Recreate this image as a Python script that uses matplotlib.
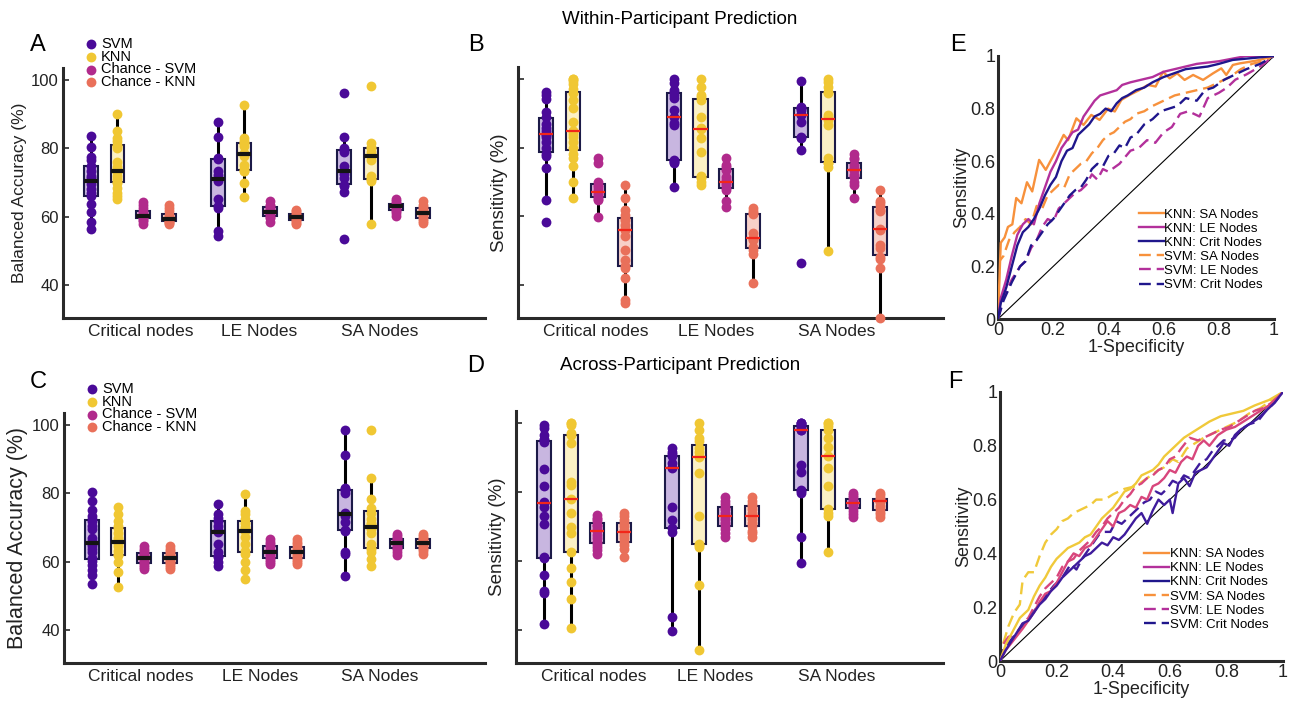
import numpy as np
import matplotlib.pyplot as plt
from matplotlib.lines import Line2D

plt.rcParams['font.family'] = ['Liberation Sans', 'DejaVu Sans']

groups = ['Critical nodes', 'LE Nodes', 'SA Nodes']
models = ['SVM', 'KNN', 'Chance - SVM', 'Chance - KNN']

# ---- A: within-participant balanced accuracy (%) [crit, LE, SA]
accA_svm = [[83.5, 80.4, 77.4, 76.5, 74.8, 73.3, 72.0, 71.4, 70.4, 69.4, 68.2, 67.0, 66.0, 63.6, 61.4, 58.4, 56.5],
            [87.7, 83.2, 77.2, 76.9, 73.3, 72.3, 70.9, 70.4, 65, 63.1, 62.6, 55.8, 54.4],
            [96.1, 83.3, 80, 79.6, 79, 74.8, 73.3, 73.3, 72.5, 71.4, 69.1, 69, 67.2, 53.4]]
accA_knn = [[90.1, 85, 83, 82, 81, 80.8, 80, 76, 74.5, 73.5, 73.3, 73, 72, 71, 70, 69.9, 68.4, 67, 66, 65],
            [92.7, 83, 82, 81.6, 81.6, 80.6, 78.6, 78.4, 77.7, 75, 74, 73.3, 73.3, 69.7, 65.8],
            [98.3, 81.6, 80.4, 80.1, 79, 77.7, 77.7, 76.7, 72, 71.1, 71.1, 70.4, 57.8]]
accA_csvm = [[64.4, 63.3, 62.5, 61.7, 61, 60.5, 60.2, 60, 59.8, 59.5, 59, 58.7, 57.8],
             [64.6, 63.5, 63, 62.5, 62, 61.4, 61, 60.5, 60, 59.7, 58.4],
             [65, 64.6, 64, 63.5, 63.1, 63, 62.5, 62, 61.7, 61, 60.3]]
accA_cknn = [[63.3, 62.5, 61.5, 60.5, 60, 59.5, 59.2, 59, 58.8, 58.5, 58.2, 57.8],
             [61.9, 61.5, 61, 60.5, 60, 59.9, 59.5, 59, 58.7, 58.2, 57.8],
             [64.5, 63.5, 62.8, 62.3, 61.5, 61, 60.5, 60, 59.4, 58.8, 58]]

# ---- B: within-participant sensitivity (%)
sensB_svm = [[96.3, 95.3, 94.1, 90.5, 89, 87, 85.6, 84.7, 84, 83.7, 83, 81.7, 80, 78.1, 77.4, 74, 64.8, 58.4],
             [100, 98.7, 96.8, 96.3, 95.3, 94.4, 91, 89, 87.1, 86.6, 76.3, 76.2, 75.9, 75.4, 68.4],
             [99.5, 91.9, 91.5, 91.5, 91, 89.7, 89.5, 87.6, 83, 82.9, 79.3, 46.3]]
sensB_knn = [[100, 100, 99.5, 98.5, 97, 95.8, 93.9, 91.5, 84, 87.6, 84.9, 84.7, 83.2, 81.7, 79.8, 78.1, 76.9, 74.5, 70.1, 65.2],
             [100, 97.8, 95.3, 94.7, 93.9, 89, 85.6, 85.4, 82.7, 78.8, 71.4, 71.6, 71.1, 70.1, 69.1],
             [100, 99.2, 97.6, 96.3, 95.8, 89.5, 89, 87.9, 86.6, 75.5, 76.9, 75.4, 74.3, 49.7]]
sensB_csvm = [[76.9, 75.4, 70.1, 69.1, 68.6, 67.5, 66.7, 66.2, 65.7, 65, 64.8, 59.9],
              [76.9, 75, 74.3, 73.5, 71.4, 70.4, 69.6, 69, 68.2, 67.7, 64.3, 62.6],
              [78.2, 76.9, 76.6, 75, 74, 73.7, 73.5, 72, 71.4, 70, 69.1, 65.2]]
sensB_cknn = [[69.1, 65.2, 61.7, 60.4, 59.5, 58.9, 57.5, 56.3, 56, 54.1, 50, 47.3, 45.5, 44.9, 41.9, 35.6, 34.7],
              [62.3, 61.5, 60.9, 60.5, 55, 53.6, 53.4, 53.1, 51, 50.2, 49, 40.5],
              [67.7, 64.3, 63.8, 63, 61.8, 61.4, 56.3, 56, 51.7, 50.7, 48, 47.5, 44.9, 30.3]]

# ---- C: across-participant balanced accuracy (%)
accC_svm = [[80.3, 77.7, 75.1, 73.2, 72.5, 71.9, 70.5, 69.5, 67, 66.1, 65, 64.7, 63.7, 62.7, 61, 60.3, 58.9, 57.4, 56, 53.5],
            [76.8, 73.9, 72.9, 72, 70.5, 69.2, 68.8, 65.2, 62.7, 61.5, 61.3, 59.8, 58.7],
            [98.5, 91.3, 81.6, 81.2, 81, 80.1, 74.3, 73.8, 73.3, 71.6, 69.3, 69, 62.8, 62.2, 55.9]]
accC_knn = [[76.1, 73.9, 71.9, 70.5, 69.7, 68.5, 67, 66.1, 65.5, 64.7, 63.2, 62, 61.8, 59.8, 56.9, 52.6],
            [79.7, 74.8, 73.9, 72.4, 71.2, 70, 69.5, 69, 67.1, 65, 63.2, 62.2, 59.8, 57.4, 55],
            [98.5, 84.5, 78.2, 75.8, 74.3, 72.5, 71.4, 71, 69.5, 68.5, 65, 64.1, 63.6, 62.7, 60.7, 58.8]]
accC_csvm = [[64.5, 63.8, 63, 62.5, 62, 61.5, 61, 60.5, 60, 59.5, 59, 58.5, 57.8],
             [66.5, 65.8, 65, 64.5, 63.5, 63, 62.9, 62.3, 61.5, 61, 60.6, 60, 59.4],
             [68, 67.5, 67, 66.5, 66, 65.5, 65.4, 65, 64.5, 64, 63.6, 62.8, 62]]
accC_cknn = [[64.5, 63.8, 63, 62.5, 62, 61.5, 61, 60.5, 60, 59.5, 59, 58.5, 57.8],
             [66.5, 65.8, 65, 64.3, 63.5, 63, 62.9, 62.3, 61.5, 61, 60.6, 60, 59.4],
             [68, 67.5, 67, 66.5, 66, 65.5, 65.4, 65, 64.5, 64, 63.6, 63, 62.3]]

# ---- D: across-participant sensitivity (%)
sensD_svm = [[99.5, 98.5, 96.6, 95.5, 95, 94.5, 86.6, 81.6, 77, 76.9, 75.7, 73, 70.7, 61, 60.7, 56, 51.2, 50.5, 41.7],
             [92.7, 91.7, 91, 90.3, 88.3, 87.2, 86.9, 75.7, 71.8, 69.4, 68.4, 43.7, 39.6],
             [100, 100, 100, 99.5, 99, 98.5, 98.1, 98.1, 87.9, 85.9, 80.6, 80.3, 79.6, 67, 59.4]]
sensD_knn = [[100, 100, 99.5, 97, 96.5, 94.2, 83, 82, 77.9, 73.8, 69.9, 68, 62.5, 57.8, 53.9, 49, 40.6],
             [100, 98.1, 95.6, 94.7, 92.7, 91.7, 90.3, 90, 85.4, 73, 65, 64.6, 64.1, 52.9, 34],
             [100, 100, 99, 98.1, 95.6, 93, 90.5, 87, 81.7, 75, 73.8, 73, 62.5]]
sensD_csvm = [[73.3, 72.5, 72.1, 71.5, 70.5, 70, 69.1, 68.5, 67.5, 66.5, 65.5, 64.8, 64, 63, 62.1],
              [78.6, 77.5, 76.5, 75.7, 75, 74, 73, 72, 71, 70, 69.2, 68, 67],
              [79.6, 79, 78.6, 78, 77.5, 77, 76.9, 76.5, 76, 75.4, 74.5, 73.5, 72.8]]
sensD_cknn = [[73.8, 73, 71.7, 71, 70, 69, 68.3, 67.5, 66.5, 65.5, 64.5, 63.5, 61.2],
              [78.6, 77.5, 76.5, 76, 75, 74, 73, 72, 71, 70, 68.7, 68, 67],
              [79.6, 79, 78.2, 78, 77.5, 77.5, 77, 76, 75, 74.3, 73.5, 72.8]]

# ---- E: within-participant ROC (1-specificity, sensitivity)
rocE_knn_sa = [(0, 0), (0.006, 0.175), (0.01, 0.29), (0.024, 0.31), (0.036, 0.35), (0.052, 0.36), (0.066, 0.46),
               (0.085, 0.44), (0.105, 0.52), (0.124, 0.485), (0.149, 0.605), (0.173, 0.567), (0.205, 0.63),
               (0.238, 0.70), (0.254, 0.68), (0.284, 0.763), (0.31, 0.738), (0.338, 0.776), (0.368, 0.757),
               (0.399, 0.80), (0.423, 0.789), (0.447, 0.833), (0.477, 0.852), (0.513, 0.871), (0.543, 0.89),
               (0.571, 0.884), (0.598, 0.94), (0.622, 0.915), (0.649, 0.934), (0.676, 0.909), (0.707, 0.928),
               (0.743, 0.909), (0.779, 0.934), (0.809, 0.953), (0.827, 0.928), (0.851, 0.966), (0.876, 0.972),
               (0.912, 0.978), (0.948, 0.985), (1, 1)]
rocE_knn_le = [(0, 0), (0.01, 0.08), (0.03, 0.15), (0.05, 0.24), (0.07, 0.32), (0.09, 0.36), (0.11, 0.38),
               (0.13, 0.36), (0.15, 0.44), (0.17, 0.50), (0.19, 0.56), (0.21, 0.60), (0.23, 0.65), (0.25, 0.68),
               (0.27, 0.71), (0.29, 0.72), (0.31, 0.77), (0.33, 0.80), (0.35, 0.83), (0.37, 0.85), (0.40, 0.86),
               (0.43, 0.87), (0.45, 0.89), (0.48, 0.90), (0.52, 0.91), (0.56, 0.92), (0.60, 0.94), (0.64, 0.95),
               (0.68, 0.96), (0.72, 0.97), (0.76, 0.975), (0.80, 0.98), (0.85, 0.99), (0.90, 1.0), (1, 1)]
rocE_knn_crit = [(0, 0), (0.01, 0.06), (0.03, 0.12), (0.05, 0.20), (0.07, 0.28), (0.09, 0.33), (0.11, 0.35),
                 (0.13, 0.38), (0.15, 0.42), (0.17, 0.47), (0.19, 0.51), (0.21, 0.54), (0.23, 0.60), (0.25, 0.64),
                 (0.27, 0.65), (0.29, 0.70), (0.31, 0.72), (0.33, 0.74), (0.35, 0.77), (0.37, 0.78), (0.39, 0.80),
                 (0.41, 0.79), (0.43, 0.82), (0.45, 0.84), (0.47, 0.85), (0.50, 0.87), (0.53, 0.88), (0.56, 0.90),
                 (0.60, 0.92), (0.64, 0.935), (0.68, 0.95), (0.72, 0.955), (0.76, 0.96), (0.80, 0.97),
                 (0.85, 0.985), (0.90, 0.99), (1, 1)]
rocE_svm_sa = [(0, 0), (0.005, 0.22), (0.02, 0.24), (0.04, 0.30), (0.06, 0.33), (0.08, 0.35), (0.10, 0.38),
               (0.12, 0.36), (0.14, 0.43), (0.16, 0.42), (0.18, 0.47), (0.20, 0.49), (0.22, 0.51), (0.24, 0.50),
               (0.26, 0.55), (0.28, 0.57), (0.30, 0.59), (0.32, 0.60), (0.34, 0.63), (0.36, 0.65), (0.38, 0.68),
               (0.40, 0.70), (0.42, 0.71), (0.44, 0.73), (0.46, 0.75), (0.48, 0.76), (0.50, 0.78), (0.53, 0.79),
               (0.56, 0.81), (0.60, 0.83), (0.64, 0.85), (0.68, 0.86), (0.72, 0.87), (0.76, 0.88), (0.80, 0.90),
               (0.84, 0.92), (0.88, 0.95), (0.92, 0.97), (0.96, 0.98), (1, 1)]
rocE_svm_le = [(0, 0), (0.02, 0.08), (0.05, 0.15), (0.08, 0.20), (0.10, 0.22), (0.12, 0.27), (0.14, 0.30),
               (0.16, 0.35), (0.18, 0.38), (0.20, 0.37), (0.22, 0.42), (0.24, 0.44), (0.26, 0.46), (0.28, 0.48),
               (0.30, 0.49), (0.32, 0.51), (0.34, 0.55), (0.36, 0.53), (0.38, 0.57), (0.40, 0.56), (0.44, 0.59),
               (0.48, 0.64), (0.51, 0.65), (0.54, 0.68), (0.57, 0.67), (0.60, 0.71), (0.63, 0.73), (0.66, 0.78),
               (0.69, 0.79), (0.73, 0.77), (0.76, 0.84), (0.80, 0.86), (0.83, 0.88), (0.86, 0.91), (0.90, 0.93),
               (0.95, 0.96), (1, 1)]
rocE_svm_crit = [(0, 0), (0.02, 0.07), (0.05, 0.14), (0.08, 0.20), (0.10, 0.22), (0.12, 0.28), (0.14, 0.30),
                 (0.16, 0.33), (0.18, 0.36), (0.20, 0.38), (0.22, 0.41), (0.24, 0.44), (0.26, 0.47), (0.28, 0.49),
                 (0.30, 0.50), (0.32, 0.53), (0.34, 0.57), (0.36, 0.59), (0.38, 0.58), (0.40, 0.62), (0.42, 0.63),
                 (0.44, 0.66), (0.46, 0.65), (0.48, 0.69), (0.50, 0.70), (0.53, 0.74), (0.56, 0.76), (0.59, 0.79),
                 (0.62, 0.80), (0.65, 0.81), (0.68, 0.84), (0.72, 0.83), (0.75, 0.87), (0.78, 0.88), (0.82, 0.91),
                 (0.86, 0.93), (0.90, 0.95), (0.95, 0.97), (1, 1)]

# ---- F: across-participant ROC
rocF_knn_sa = [(0, 0), (0.02, 0.06), (0.05, 0.12), (0.07, 0.16), (0.10, 0.19), (0.12, 0.24), (0.14, 0.28),
               (0.16, 0.31), (0.18, 0.35), (0.20, 0.38), (0.22, 0.40), (0.24, 0.42), (0.26, 0.43), (0.28, 0.44),
               (0.30, 0.46), (0.32, 0.47), (0.34, 0.50), (0.36, 0.53), (0.38, 0.55), (0.40, 0.57), (0.42, 0.60),
               (0.44, 0.63), (0.46, 0.64), (0.48, 0.66), (0.50, 0.69), (0.52, 0.70), (0.54, 0.71), (0.56, 0.73),
               (0.58, 0.76), (0.60, 0.78), (0.62, 0.80), (0.65, 0.83), (0.68, 0.85), (0.71, 0.87), (0.74, 0.89),
               (0.78, 0.91), (0.82, 0.92), (0.86, 0.93), (0.90, 0.95), (0.95, 0.97), (1, 1)]
rocF_knn_le = [(0, 0), (0.02, 0.04), (0.05, 0.08), (0.08, 0.12), (0.10, 0.15), (0.12, 0.18), (0.14, 0.22),
               (0.16, 0.25), (0.18, 0.26), (0.20, 0.29), (0.22, 0.33), (0.24, 0.37), (0.26, 0.40), (0.28, 0.39),
               (0.30, 0.42), (0.32, 0.43), (0.34, 0.46), (0.36, 0.49), (0.38, 0.52), (0.40, 0.50), (0.42, 0.55),
               (0.44, 0.56), (0.46, 0.58), (0.48, 0.57), (0.50, 0.61), (0.52, 0.60), (0.54, 0.65), (0.56, 0.66),
               (0.58, 0.68), (0.60, 0.71), (0.62, 0.70), (0.64, 0.74), (0.66, 0.76), (0.68, 0.75), (0.70, 0.80),
               (0.72, 0.82), (0.74, 0.80), (0.77, 0.84), (0.80, 0.86), (0.83, 0.87), (0.86, 0.89), (0.89, 0.91),
               (0.92, 0.93), (0.95, 0.95), (0.98, 0.98), (1, 1)]
rocF_knn_crit = [(0, 0), (0.02, 0.04), (0.05, 0.09), (0.08, 0.14), (0.10, 0.15), (0.12, 0.18), (0.14, 0.21),
                 (0.16, 0.23), (0.18, 0.26), (0.20, 0.28), (0.22, 0.31), (0.24, 0.33), (0.26, 0.35), (0.28, 0.37),
                 (0.30, 0.39), (0.32, 0.40), (0.34, 0.42), (0.36, 0.44), (0.38, 0.43), (0.40, 0.46), (0.42, 0.45),
                 (0.44, 0.47), (0.46, 0.50), (0.48, 0.53), (0.50, 0.55), (0.52, 0.51), (0.54, 0.56), (0.56, 0.60),
                 (0.58, 0.58), (0.60, 0.60), (0.61, 0.55), (0.63, 0.66), (0.65, 0.68), (0.67, 0.65), (0.69, 0.70),
                 (0.71, 0.71), (0.73, 0.72), (0.75, 0.75), (0.77, 0.78), (0.79, 0.81), (0.81, 0.80), (0.83, 0.84),
                 (0.85, 0.86), (0.88, 0.88), (0.91, 0.90), (0.94, 0.93), (0.97, 0.96), (1, 1)]
rocF_svm_sa = [(0, 0), (0.01, 0.06), (0.03, 0.13), (0.05, 0.18), (0.07, 0.21), (0.08, 0.30), (0.10, 0.33),
               (0.12, 0.33), (0.14, 0.39), (0.16, 0.44), (0.18, 0.47), (0.20, 0.49), (0.22, 0.52), (0.24, 0.53),
               (0.26, 0.55), (0.28, 0.56), (0.30, 0.57), (0.32, 0.58), (0.34, 0.60), (0.37, 0.60), (0.40, 0.62),
               (0.44, 0.64), (0.48, 0.65), (0.52, 0.68), (0.56, 0.71), (0.58, 0.72), (0.61, 0.75), (0.63, 0.74),
               (0.66, 0.79), (0.69, 0.81), (0.72, 0.83), (0.76, 0.85), (0.80, 0.87), (0.84, 0.89), (0.88, 0.92),
               (0.92, 0.94), (0.96, 0.97), (1, 1)]
rocF_svm_le = [(0, 0), (0.01, 0.06), (0.03, 0.09), (0.06, 0.10), (0.08, 0.14), (0.10, 0.16), (0.12, 0.20),
               (0.14, 0.24), (0.16, 0.27), (0.18, 0.29), (0.20, 0.31), (0.22, 0.35), (0.24, 0.37), (0.26, 0.38),
               (0.28, 0.41), (0.30, 0.43), (0.32, 0.45), (0.34, 0.48), (0.36, 0.50), (0.38, 0.53), (0.40, 0.55),
               (0.42, 0.57), (0.44, 0.60), (0.46, 0.62), (0.48, 0.65), (0.50, 0.66), (0.52, 0.68), (0.54, 0.69),
               (0.56, 0.71), (0.58, 0.72), (0.60, 0.75), (0.62, 0.76), (0.64, 0.79), (0.67, 0.83), (0.70, 0.82),
               (0.74, 0.84), (0.78, 0.86), (0.81, 0.87), (0.84, 0.89), (0.87, 0.91), (0.90, 0.93), (0.93, 0.94),
               (0.96, 0.96), (1, 1)]
rocF_svm_crit = [(0, 0), (0.01, 0.04), (0.04, 0.08), (0.07, 0.12), (0.10, 0.15), (0.13, 0.20), (0.16, 0.24),
                 (0.19, 0.28), (0.22, 0.31), (0.25, 0.36), (0.27, 0.34), (0.29, 0.38), (0.31, 0.41), (0.33, 0.44),
                 (0.35, 0.47), (0.37, 0.48), (0.39, 0.48), (0.41, 0.52), (0.43, 0.51), (0.45, 0.53), (0.47, 0.55),
                 (0.49, 0.57), (0.51, 0.59), (0.53, 0.60), (0.55, 0.63), (0.57, 0.62), (0.59, 0.64), (0.61, 0.67),
                 (0.63, 0.66), (0.65, 0.69), (0.67, 0.68), (0.69, 0.71), (0.71, 0.74), (0.73, 0.75), (0.75, 0.78),
                 (0.77, 0.80), (0.79, 0.82), (0.81, 0.82), (0.83, 0.83), (0.85, 0.86), (0.88, 0.88), (0.91, 0.89),
                 (0.94, 0.93), (0.97, 0.96), (1, 1)]

roc_labels = ['KNN: SA Nodes', 'KNN: LE Nodes', 'KNN: Crit Nodes',
              'SVM: SA Nodes', 'SVM: LE Nodes', 'SVM: Crit Nodes']

dot_colors = ['#4a0a98', '#f0c733', '#b12a8c', '#e9705a']
box_fills = ['#c8b6e0', '#fbf0c6', '#dba8d3', '#f7d0c8']
offsets = [-0.31, -0.10, 0.10, 0.31]
edge = '#1c1a48'
spine_c = '#2a2a2a'

colE = ['#f7913c', '#b3309b', '#1f168c']
colF = ['#f0c93a', '#d8467c', '#3e1b9c']

fig = plt.figure(figsize=(12.92, 7.04), dpi=100)


def style_axes(ax):
    for s in ['top', 'right']:
        ax.spines[s].set_visible(False)
    for s in ['left', 'bottom']:
        ax.spines[s].set_linewidth(2.2)
        ax.spines[s].set_color(spine_c)
    ax.tick_params(direction='in', length=4, width=1.2, colors=spine_c, labelcolor='#222222')


def box_panel(rect, sets, red_median, ylabel, ylabel_size, show_ylab_ticks, legend):
    ax = fig.add_axes(rect)
    style_axes(ax)
    for j, data in enumerate(sets):
        pos = np.arange(1, 4) + offsets[j]
        if red_median:
            mprops = dict(color='#f2261a', linewidth=1.6)
        else:
            mprops = dict(color='#141414', linewidth=3)
        bp = ax.boxplot(data, positions=pos, widths=0.11, patch_artist=True, showcaps=False,
                        showfliers=False, whis=1.5, manage_ticks=False,
                        boxprops=dict(facecolor=box_fills[j], edgecolor=edge, linewidth=1.5),
                        whiskerprops=dict(color='black', linewidth=2.2),
                        medianprops=mprops)
        for w in bp['whiskers']:
            w.set_zorder(1)
        for b in bp['boxes']:
            b.set_zorder(2)
        for m in bp['medians']:
            m.set_zorder(4)
        for k, vals in enumerate(data):
            ax.scatter(np.full(len(vals), pos[k]), vals, s=50, color=dot_colors[j],
                       linewidths=0, zorder=3, clip_on=False, label=models[j] if k == 0 else None)
    ax.set_xlim(0.47, 3.8)
    ax.set_ylim(30.3, 103.5)
    ax.set_yticks([40, 60, 80, 100])
    if show_ylab_ticks:
        ax.tick_params(axis='y', labelsize=12, pad=3)
    else:
        ax.set_yticklabels([])
    ax.set_xticks([1.08, 2.02, 2.97])
    ax.set_xticklabels(groups, fontsize=12.5)
    ax.tick_params(axis='x', length=0, pad=4)
    ax.set_ylabel(ylabel, fontsize=ylabel_size, labelpad=3 if show_ylab_ticks else 4, color='#222222')
    if legend:
        ax.legend(loc='upper left', bbox_to_anchor=(0.045, 1.125), frameon=False, fontsize=10.5,
                  handletextpad=0.1, labelspacing=-0.08, borderpad=0, handlelength=1.2,
                  borderaxespad=0, scatterpoints=1)
    return ax


def roc_panel(rect, curves, cols):
    ax = fig.add_axes(rect)
    style_axes(ax)
    ax.plot([0, 1], [0, 1], color='black', linewidth=0.8, zorder=1)
    styles = ['-', '-', '-', '--', '--', '--']
    for i, pts in enumerate(curves):
        xy = np.array(pts).T
        line, = ax.plot(xy[0], xy[1], color=cols[i % 3], linewidth=1.7, zorder=2 + (i < 3))
        if styles[i] == '--':
            line.set_dashes((5, 2.5))
    ax.set_xlim(0, 1)
    ax.set_ylim(0, 1)
    ticks = [0, 0.2, 0.4, 0.6, 0.8, 1]
    tlab = ['0', '0.2', '0.4', '0.6', '0.8', '1']
    ax.set_xticks(ticks)
    ax.set_xticklabels(tlab)
    ax.set_yticks(ticks)
    ax.set_yticklabels(tlab)
    ax.tick_params(labelsize=13, length=0, pad=2)
    ax.set_xlabel('1-Specificity', fontsize=13, labelpad=0, color='#222222')
    ax.set_ylabel('Sensitivity', fontsize=13, labelpad=0, color='#222222')
    # legend colours follow panel E in both panels
    handles = []
    for i in range(6):
        h = Line2D([], [], color=colE[i % 3], linewidth=1.7)
        if i >= 3:
            h.set_dashes((5, 2.5))
        handles.append(h)
    ax.legend(handles, roc_labels, loc='upper left', bbox_to_anchor=(0.51, 0.42), frameon=False,
              fontsize=9.5, handlelength=1.9, handletextpad=0.05, labelspacing=0.14,
              borderpad=0, borderaxespad=0)
    return ax


W, H = 1292, 704


def rect(l, r, t, b):
    return [l / W, 1 - b / H, (r - l) / W, (b - t) / H]


box_panel(rect(63, 485, 68, 318), [accA_svm, accA_knn, accA_csvm, accA_cknn], False,
          'Balanced Accuracy (%)', 12.5, True, True)
box_panel(rect(518, 943, 67, 318), [sensB_svm, sensB_knn, sensB_csvm, sensB_cknn], True,
          'Sensitivity (%)', 13.5, False, False)
box_panel(rect(64, 485, 413, 663), [accC_svm, accC_knn, accC_csvm, accC_cknn], False,
          'Balanced Accuracy (%)', 15.5, True, True)
box_panel(rect(516, 943, 411, 663), [sensD_svm, sensD_knn, sensD_csvm, sensD_cknn], True,
          'Sensitivity (%)', 13.5, False, False)

roc_panel(rect(998, 1274, 56, 319),
          [rocE_knn_sa, rocE_knn_le, rocE_knn_crit, rocE_svm_sa, rocE_svm_le, rocE_svm_crit], colE)
roc_panel(rect(1000, 1283, 392, 661),
          [rocF_knn_sa, rocF_knn_le, rocF_knn_crit, rocF_svm_sa, rocF_svm_le, rocF_svm_crit], colF)

fig.text(680 / W, 1 - 20 / H, 'Within-Participant Prediction', ha='center', va='center', fontsize=13.5)
fig.text(680 / W, 1 - 366 / H, 'Across-Participant Prediction', ha='center', va='center', fontsize=13.5)

for letter, x, y in [('A', 38, 45), ('B', 476, 45), ('E', 958, 45),
                     ('C', 38, 382), ('D', 476, 366), ('F', 955, 382)]:
    fig.text(x / W, 1 - y / H, letter, ha='center', va='center', fontsize=17)

fig.savefig('out.png', dpi=100)
